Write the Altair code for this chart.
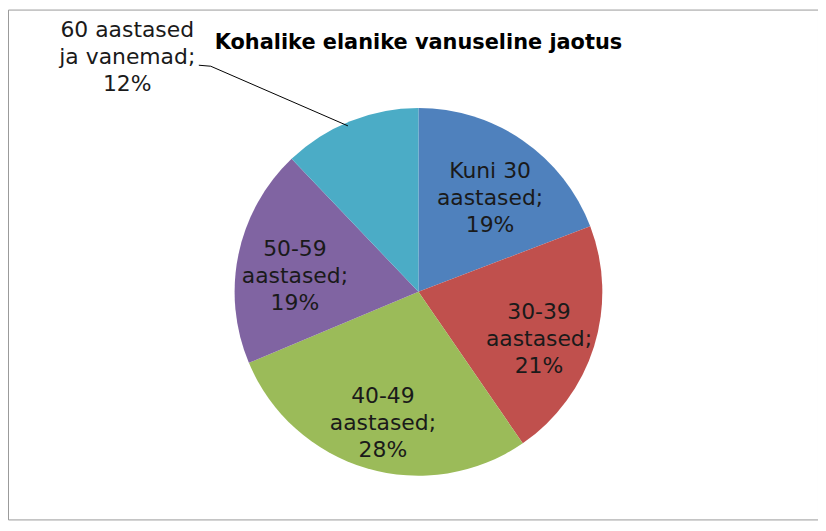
import altair as alt
import pandas as pd

# ---- data ----
categories = ["Kuni 30 aastased", "30-39 aastased", "40-49 aastased",
              "50-59 aastased", "60 aastased ja vanemad"]
label_first = ["Kuni 30", "30-39", "40-49", "50-59", "60 aastased"]
label_second = ["aastased;", "aastased;", "aastased;", "aastased;", "ja vanemad;"]
values = [19, 21, 28, 19, 12]
inside = [True, True, True, True, False]
colors = ["#4F81BD", "#C0504D", "#9BBB59", "#8064A2", "#4BACC6"]
title_text = "Kohalike elanike vanuseline jaotus"

labels = [f"{a}\n{b}\n{v}%" for a, b, v in zip(label_first, label_second, values)]
df = pd.DataFrame({
    "category": categories,
    "value": values,
    "order": list(range(len(values))),
    "inner": [l if i else "" for l, i in zip(labels, inside)],
    "outer": [l if not i else "" for l, i in zip(labels, inside)],
    "inside": inside,
})

W, H = 815, 513
CX, CY = 413, 284
FONT = "DejaVu Sans"

base = alt.Chart(df).encode(
    theta=alt.Theta("value:Q", stack=True),
    order=alt.Order("order:Q"),
)

pie = base.mark_arc(outerRadius=185).encode(
    color=alt.Color("category:N",
                    scale=alt.Scale(domain=categories, range=colors),
                    legend=None),
    x=alt.value(CX), y=alt.value(CY),
)

inner = base.mark_text(
    radius=127, dy=-17, font=FONT, fontSize=22, lineBreak="\n", lineHeight=27,
    color="#1a1a1a", align="center", baseline="middle",
).encode(text="inner:N", x=alt.value(CX), y=alt.value(CY))

outer = alt.Chart(df).transform_filter("!datum.inside").mark_text(
    font=FONT, fontSize=22, lineBreak="\n", lineHeight=27,
    color="#1a1a1a", align="center", baseline="middle",
).encode(text="outer:N", x=alt.value(120), y=alt.value(21))

one = pd.DataFrame({"t": [title_text]})
title = alt.Chart(one).mark_text(
    font=FONT, fontSize=21, fontWeight="bold", color="#000000",
    align="center", baseline="middle",
).encode(text="t:N", x=alt.value(CX), y=alt.value(34))

lead1 = alt.Chart(one).mark_rule(color="#000000", strokeWidth=1).encode(
    x=alt.value(192), y=alt.value(56), x2=alt.value(204), y2=alt.value(57))
lead2 = alt.Chart(one).mark_rule(color="#000000", strokeWidth=1).encode(
    x=alt.value(204), y=alt.value(57), x2=alt.value(342), y2=alt.value(117))

chart = alt.layer(pie, inner, outer, lead1, lead2, title).properties(
    width=W, height=H,
    autosize=alt.AutoSizeParams(type="none"),
    padding=0,
).configure_view(stroke="#999999", strokeWidth=1)

chart.save("out.html", embed_options={"renderer": "svg", "actions": False})
